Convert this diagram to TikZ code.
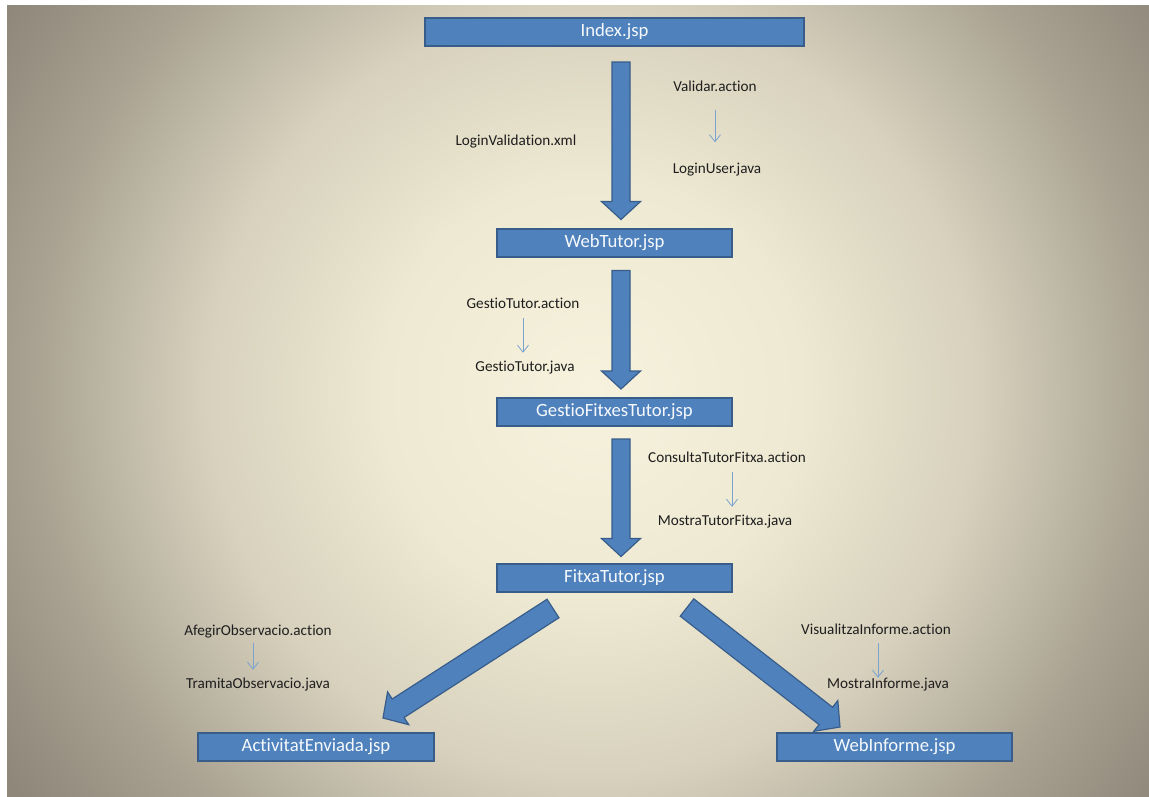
\documentclass[tikz,border=0pt]{standalone}
\usepackage{fontspec}
\setmainfont{Carlito}[Ligatures=NoCommon]
\usetikzlibrary{arrows.meta,calc,positioning}
\definecolor{boxblue}{HTML}{4F81BD}
\definecolor{boxedge}{HTML}{385D8A}
\definecolor{thinblue}{HTML}{7AA3CF}
\definecolor{labeltext}{HTML}{1E1E1E}
\definecolor{bgcenter}{HTML}{F6F2DD}
\definecolor{bgmid}{HTML}{EEE9D2}
\definecolor{bglight}{HTML}{D7D1BD}
\definecolor{bgedge}{HTML}{A9A292}
\definecolor{bgcorner}{HTML}{8E877A}
\pgfdeclareradialshading{parchment}{\pgfpoint{0bp}{0bp}}{color(0bp)=(bgcenter); color(7.5bp)=(bgmid); color(13.75bp)=(bglight); color(20bp)=(bgedge); color(25bp)=(bgcorner); color(50bp)=(bgcorner)}
% wide filled arrow from #2 to #3, half shaft width #1
\newcommand{\blockarrow}[3][9pt]{%
  \coordinate (h) at ($(#3)!18pt!(#2)$);
  \draw[bigarrow] ($(#2)!#1!90:(#3)$) -- ($(h)!#1!-90:(#2)$) -- ($(h)!19.5pt!-90:(#2)$) -- (#3)
    -- ($(h)!19.5pt!90:(#2)$) -- ($(h)!#1!90:(#2)$) -- ($(#2)!#1!-90:(#3)$) -- cycle;}

\begin{document}
\begin{tikzpicture}[x=1pt, y=-1pt,
  page/.style={fill=boxblue, draw=boxedge, line width=2pt, text=white!95!boxblue,
    font=\fontsize{18.7}{22}\selectfont, minimum height=28pt, minimum width=235pt, inner sep=0pt},
  lbl/.style={text=labeltext, font=\fontsize{15.2}{18}\selectfont, inner sep=0pt,
    text height=10pt, text depth=3pt},
  bigarrow/.style={fill=boxblue, draw=boxedge, line width=1.2pt, line join=miter},
  smallarrow/.style={thinblue, line width=0.8pt, -{Straight Barb[length=7pt,width=11pt]}}]
  \useasboundingbox (0,0) rectangle (1149,796);
  \fill[white] (0,0) rectangle (1149,796);
  \begin{scope}
    \clip (7,5) rectangle (1165,812);
    \shade[shading=parchment] (-108,-308) rectangle (1292,1092);
  \end{scope}

  \node[page, minimum width=379pt] (index) at (614.5,31.5) {Index.jsp};
  \node[page] (webtutor) at (614.5,242.5) {WebTutor.jsp};
  \node[page] (gestio) at (614.5,412) {GestioFitxesTutor.jsp};
  \node[page] (fitxa) at (614.5,577.5) {FitxaTutor.jsp};
  \node[page, minimum width=236pt] (activitat) at (316,747) {ActivitatEnviada.jsp};
  \node[page] (informe) at (894.5,747) {WebInforme.jsp};

  \coordinate (a1) at ([xshift=6.5pt,yshift=-15.5pt]index.south);
  \coordinate (b1) at ([xshift=6.5pt,yshift=8pt]webtutor.north);
  \coordinate (a2) at ([xshift=6.5pt,yshift=-13pt]webtutor.south);
  \coordinate (b2) at ([xshift=6.5pt,yshift=8pt]gestio.north);
  \coordinate (a3) at ([xshift=6.5pt,yshift=-12pt]gestio.south);
  \coordinate (b3) at ([xshift=6.5pt,yshift=6pt]fitxa.north);
  \coordinate (a4) at ([xshift=-61.5pt,yshift=-16pt]fitxa.south);
  \coordinate (b4) at ([xshift=67pt,yshift=14pt]activitat.north);
  \coordinate (a5) at ([xshift=72.5pt,yshift=-15pt]fitxa.south);
  \coordinate (b5) at ([xshift=-54.5pt,yshift=5pt]informe.north);
  \blockarrow{a1}{b1}
  \blockarrow{a2}{b2}
  \blockarrow{a3}{b3}
  \blockarrow[11pt]{a4}{b4}
  \blockarrow[11pt]{a5}{b5}

  \node[lbl] (loginval) at (516,142) {LoginValidation.xml};
  \node[lbl] (validar) at (715,88) {Validar.action};
  \node[lbl] (loginuser) at (717,170) {LoginUser.java};
  \node[lbl] (gtaction) at (523,305) {GestioTutor.action};
  \node[lbl] (gtjava) at (525,368) {GestioTutor.java};
  \node[lbl] (consulta) at (727,459) {ConsultaTutorFitxa.action};
  \node[lbl] (mostrafitxa) at (725,522) {MostraTutorFitxa.java};
  \node[lbl] (afegir) at (258,632) {AfegirObservacio.action};
  \node[lbl] (tramita) at (258,685) {TramitaObservacio.java};
  \node[lbl] (visualitza) at (876,631) {VisualitzaInforme.action};
  \node[lbl] (mostrainf) at (888,685) {MostraInforme.java};

  \draw[smallarrow, shorten <=15.5pt, shorten >=21pt] (validar.south) -- (validar.south |- loginuser.north);
  \draw[smallarrow, shorten <=6.5pt, shorten >=8.5pt] (gtaction.south) -- (gtaction.south |- gtjava.north);
  \draw[smallarrow, shorten <=6.5pt, shorten >=8.5pt] ([xshift=5pt]consulta.south) -- ([xshift=5pt]consulta.south |- mostrafitxa.north);
  \draw[smallarrow, shorten <=4.5pt, shorten >=8.5pt] ([xshift=-5pt]afegir.south) -- ([xshift=-5pt]afegir.south |- tramita.north);
  \draw[smallarrow, shorten <=5.5pt, shorten >=0.5pt] ([xshift=2pt]visualitza.south) -- ([xshift=2pt]visualitza.south |- mostrainf.north);
\end{tikzpicture}
\end{document}
